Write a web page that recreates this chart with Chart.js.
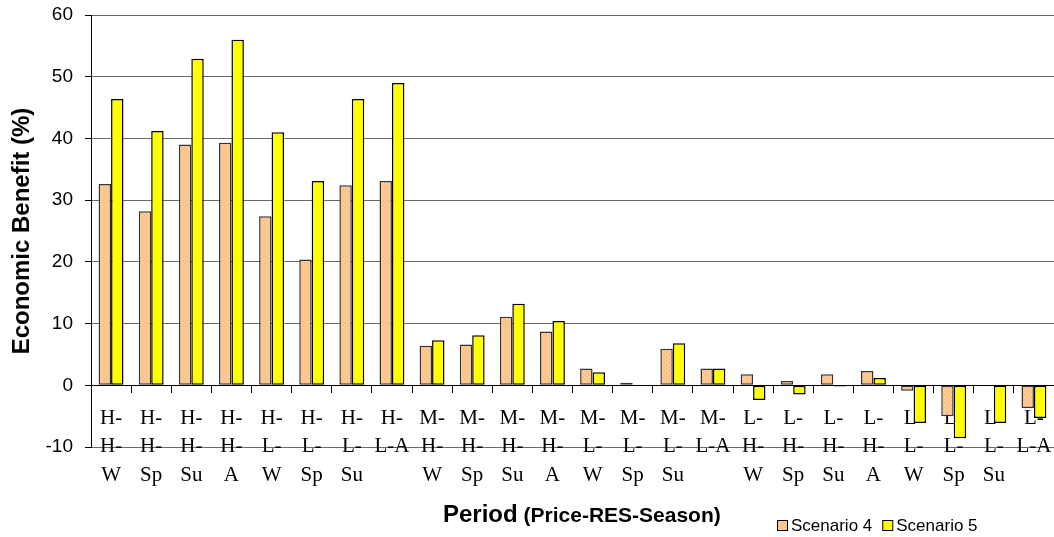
<!DOCTYPE html>
<html>
<head>
<meta charset="utf-8">
<script src="https://cdn.jsdelivr.net/npm/chart.js@4/dist/chart.umd.min.js"></script>
<style>
  html, body { margin: 0; padding: 0; background: #ffffff; }
  #wrap { width: 1054px; height: 537px; }
</style>
</head>
<body>
<div id="wrap"><canvas id="chart" width="1054" height="537"></canvas></div>
<script>
// Periods: Price level - RES level - Season
const categories = [
  ['H-', 'H-', 'W'], ['H-', 'H-', 'Sp'], ['H-', 'H-', 'Su'], ['H-', 'H-', 'A'],
  ['H-', 'L-', 'W'], ['H-', 'L-', 'Sp'], ['H-', 'L-', 'Su'], ['H-', 'L-A'],
  ['M-', 'H-', 'W'], ['M-', 'H-', 'Sp'], ['M-', 'H-', 'Su'], ['M-', 'H-', 'A'],
  ['M-', 'L-', 'W'], ['M-', 'L-', 'Sp'], ['M-', 'L-', 'Su'], ['M-', 'L-A'],
  ['L-', 'H-', 'W'], ['L-', 'H-', 'Sp'], ['L-', 'H-', 'Su'], ['L-', 'H-', 'A'],
  ['L-', 'L-', 'W'], ['L-', 'L-', 'Sp'], ['L-', 'L-', 'Su'], ['L-', 'L-A']
];

const seriesNames = ['Scenario 4', 'Scenario 5'];

// Economic benefit (%)
const scenario4 = [32.6, 28.2, 39.0, 39.3, 27.4, 20.4, 32.4, 33.1,
                   6.4, 6.6, 11.1, 8.7, 2.7, 0.4, 5.9, 2.7,
                   1.8, 0.7, 1.8, 2.3, -0.9, -5.0, 0, -3.7];
const scenario5 = [46.4, 41.2, 52.9, 56.0, 41.0, 33.1, 46.4, 49.0,
                   7.3, 8.1, 13.2, 10.4, 2.1, 0, 6.8, 2.7,
                   -2.4, -1.5, -0.2, 1.2, -6.1, -8.6, -6.1, -5.3];

const yTicks = [-10, 0, 10, 20, 30, 40, 50, 60];

const xTitleMain = 'Period';
const xTitleSub = ' (Price-RES-Season)';
const yTitle = 'Economic Benefit (%)';

const canvas = document.getElementById('chart');
const ctx = canvas.getContext('2d');

// fine diagonal hatch on a light orange base
function hatchPattern() {
  const c = document.createElement('canvas');
  c.width = 4; c.height = 4;
  const g = c.getContext('2d');
  g.fillStyle = '#FFCA94';
  g.fillRect(0, 0, 4, 4);
  g.fillStyle = '#F6BA80';
  for (let i = 0; i < 4; i++) g.fillRect(i, 3 - i, 1, 1);
  return ctx.createPattern(c, 'repeat');
}
const orangeFill = hatchPattern();
const seriesFill = [orangeFill, '#FFFF00'];
const seriesBorder = ['#333333', '#000000'];

// x-axis title and legend drawn below the plot
const bottomText = {
  id: 'bottomText',
  afterDraw(chart) {
    const c = chart.ctx;
    c.save();
    c.fillStyle = '#000';
    c.textBaseline = 'alphabetic';
    c.textAlign = 'left';
    c.font = 'bold 24px "Liberation Sans", Arial, sans-serif';
    const x0 = 443, base = 522;
    c.fillText(xTitleMain, x0, base);
    const w = c.measureText(xTitleMain).width;
    c.font = 'bold 21px "Liberation Sans", Arial, sans-serif';
    c.fillText(xTitleSub, x0 + w, base);

    // legend
    c.font = '17px "Liberation Sans", Arial, sans-serif';
    c.textBaseline = 'middle';
    let x = 777;
    const cy = 525;
    chart.data.datasets.forEach((ds) => {
      c.fillStyle = ds.backgroundColor;
      c.fillRect(x, cy - 5, 10, 10);
      c.strokeStyle = '#000';
      c.lineWidth = 1;
      c.strokeRect(x + 0.5, cy - 4.5, 10, 10);
      c.fillStyle = '#000';
      c.fillText(ds.label, x + 14, cy + 1);
      x += 14 + c.measureText(ds.label).width + 10;
    });
    c.restore();
  }
};

new Chart(ctx, {
  type: 'bar',
  data: {
    labels: categories,
    datasets: [scenario4, scenario5].map((vals, i) => ({
      label: seriesNames[i],
      data: vals,
      backgroundColor: seriesFill[i],
      borderColor: seriesBorder[i],
      borderWidth: 1.5,
      borderSkipped: false,
      categoryPercentage: 0.62,
      barPercentage: 1.0
    }))
  },
  options: {
    responsive: false,
    animation: false,
    devicePixelRatio: 1,
    layout: { padding: { top: 15, bottom: 90, left: 0, right: 0 } },
    plugins: {
      legend: { display: false },
      tooltip: { enabled: false }
    },
    scales: {
      x: {
        type: 'category',
        position: { y: 0 },
        offset: true,
        afterFit(scale) { scale.paddingLeft = 0; scale.paddingRight = 0; },
        grid: {
          offset: true,
          drawOnChartArea: false,
          drawTicks: true,
          tickLength: 7,
          tickColor: '#000'
        },
        border: { display: true, color: '#000', width: 1 },
        ticks: {
          color: '#000',
          autoSkip: false,
          maxRotation: 0,
          padding: 12,
          font: { family: '"Liberation Serif", "Times New Roman", serif', size: 21, lineHeight: 1.35 }
        }
      },
      y: {
        min: yTicks[0],
        max: yTicks[yTicks.length - 1],
        afterFit(scale) { scale.width = 91; scale.paddingTop = 0; scale.paddingBottom = 0; },
        afterBuildTicks(scale) { scale.ticks = yTicks.map(v => ({ value: v })); },
        grid: {
          color: c => (c.tick && c.tick.value === 0) ? '#000' : '#6a6a6a',
          tickColor: '#000',
          tickLength: 6,
          lineWidth: 1
        },
        border: { display: true, color: '#000', width: 1 },
        ticks: {
          color: '#000',
          padding: 12,
          font: { family: '"Liberation Sans", Arial, sans-serif', size: 19 }
        },
        title: {
          display: true,
          text: yTitle,
          color: '#000',
          padding: { top: 8, bottom: 0 },
          font: { family: '"Liberation Sans", Arial, sans-serif', size: 24, weight: 'bold' }
        }
      }
    }
  },
  plugins: [bottomText]
});
</script>
</body>
</html>
